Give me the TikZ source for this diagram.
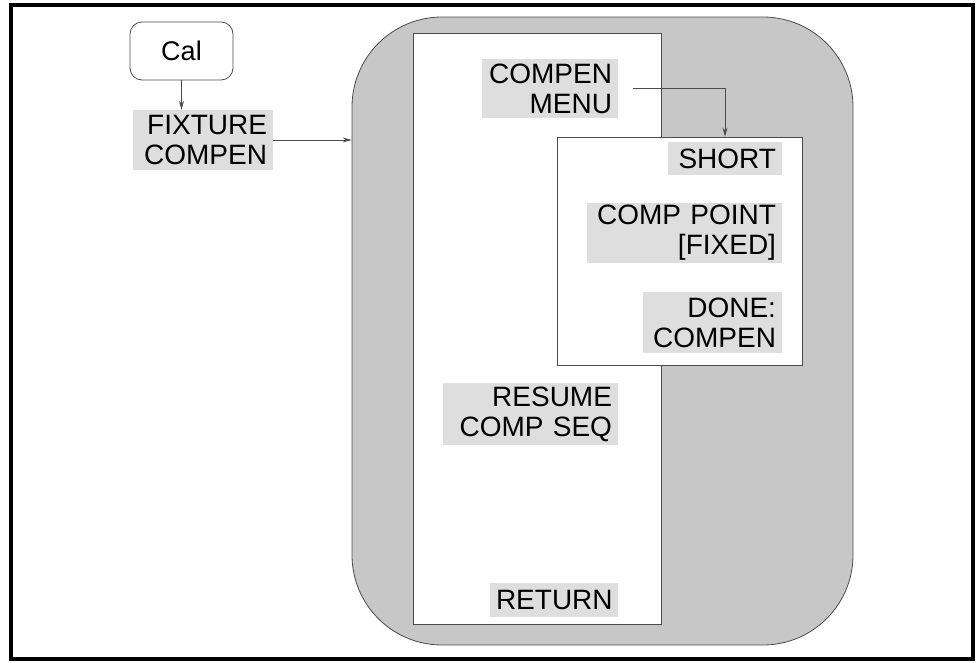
\documentclass[tikz,border=0pt]{standalone}
\usepackage{fontspec}
\setmainfont{Liberation Sans}
\usetikzlibrary{arrows.meta}
\definecolor{linecol}{gray}{0.3}
\definecolor{grayfill}{gray}{0.78}
\definecolor{txtbg}{gray}{0.87}
\begin{document}
\begin{tikzpicture}[x=1pt,y=-1pt,
  lbl/.style={fill=txtbg, inner xsep=6pt, inner ysep=0pt, align=right,
    font=\fontsize{28}{30}\selectfont},
  panelbox/.style={draw=linecol, line width=0.8pt, fill=white, inner sep=0pt},
  arr/.style={draw=linecol, line width=0.9pt, -{Stealth[length=9pt,width=5pt]}},
]
\useasboundingbox (0,0) rectangle (977,662);
\draw[line width=4pt] (11,5) rectangle (973,659);

\node[draw=linecol, line width=0.8pt, fill=grayfill, rounded corners=90pt,
  minimum width=501pt, minimum height=628pt, inner sep=0pt] (outer) at (602.5,331) {};
\node[panelbox, minimum width=248pt, minimum height=591pt] (panel) at (537,328.5) {};
\node[panelbox, minimum width=245pt, minimum height=228pt] (sub) at (679.5,251) {};

\node[draw=linecol, line width=0.8pt, fill=white, rounded corners=12pt,
  minimum width=103pt, minimum height=58pt, inner sep=0pt,
  font=\fontsize{27}{30}\selectfont] (cal) at (181.5,51) {Cal};

\node[lbl, text width=128pt, minimum height=60pt] (fixture) at (203,140) {FIXTURE\\COMPEN};
\node[lbl, text width=124pt, minimum height=59pt] (menu) at (550,88.5) {COMPEN\\MENU};
\node[lbl, text width=102pt, minimum height=33pt] (short) at (725,158.5) {SHORT};
\node[lbl, text width=183pt, minimum height=60pt] (point) at (684.5,233) {COMP POINT\\{[FIXED]}};
\node[lbl, text width=127pt, minimum height=61pt] (done) at (712.5,322.5) {DONE:\\COMPEN};
\node[lbl, text width=163pt, minimum height=62pt] (resume) at (530.5,414) {RESUME\\COMP SEQ};
\node[lbl, text width=116pt, minimum height=34pt] (return) at (554,600) {RETURN};

\draw[arr] (cal.south) -- (cal.south |- fixture.north);
\draw[arr] (fixture.east) -- (fixture.east -| outer.west);
\draw[arr] ([xshift=15pt]menu.east) -| (short.north |- sub.north);
\end{tikzpicture}
\end{document}
